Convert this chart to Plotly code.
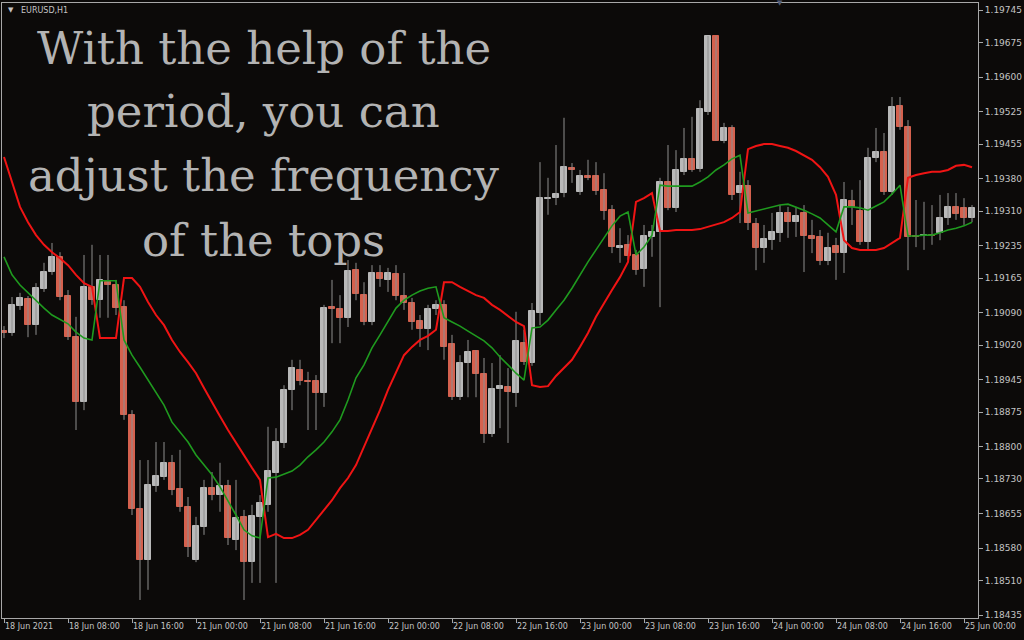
import plotly.graph_objects as go

# ---- data (EURUSD H1) ----
opens = [1.19050,1.19046,1.19105,1.19120,1.19063,1.19141,1.19178,1.19211,1.19126,1.19037,
         1.18897,1.19146,1.19117,1.19156,1.19150,1.19102,1.18869,1.18665,1.18555,1.18715,
         1.18734,1.18765,1.18708,1.18669,1.18555,1.18626,1.18710,1.18695,1.18715,1.18598,
         1.18648,1.18550,1.18648,1.18674,1.18743,1.18808,1.18923,1.18966,1.18942,1.18942,
         1.18916,1.19102,1.19098,1.19079,1.19182,1.19128,1.19070,1.19176,1.19161,1.19174,
         1.19126,1.19111,1.19072,1.19055,1.19098,1.19107,1.19022,1.18907,1.18981,1.19007,
         1.18957,1.18827,1.18925,1.18929,1.18916,1.19024,1.18981,1.19089,1.19336,1.19338,
         1.19349,1.19403,1.19351,1.19386,1.19386,1.19356,1.19312,1.19230,1.19237,1.19215,
         1.19185,1.19254,1.19265,1.19373,1.19317,1.19395,1.19423,1.19401,1.19525,1.19689,
         1.19462,1.19490,1.19349,1.19364,1.19282,1.19230,1.19247,1.19263,1.19306,1.19286,
         1.19306,1.19256,1.19254,1.19202,1.19234,1.19219,1.19332,1.19310,1.19243,1.19425,
         1.19438,1.19351,1.19538,1.19492,1.19256,1.19256,1.19258,1.19263,1.19295,1.19319,
         1.19317,1.19295]
highs = [1.19061,1.19124,1.19133,1.19126,1.19154,1.19198,1.19241,1.19221,1.19139,1.19081,
         1.19215,1.19237,1.19215,1.19215,1.19161,1.19117,1.18879,1.18771,1.18771,1.18810,
         1.18810,1.18782,1.18793,1.18691,1.18648,1.18728,1.18745,1.18765,1.18728,1.18728,
         1.18663,1.18674,1.18695,1.18843,1.18840,1.18933,1.18988,1.18988,1.18962,1.18955,
         1.19107,1.19161,1.19128,1.19204,1.19198,1.19156,1.19193,1.19193,1.19187,1.19193,
         1.19176,1.19122,1.19085,1.19107,1.19117,1.19117,1.19042,1.18998,1.19031,1.19009,
         1.18992,1.18981,1.18998,1.18970,1.19092,1.19053,1.19111,1.19416,1.19382,1.19453,
         1.19512,1.19414,1.19399,1.19421,1.19416,1.19392,1.19323,1.19273,1.19258,1.19226,
         1.19280,1.19280,1.19382,1.19453,1.19442,1.19490,1.19514,1.19550,1.19689,1.19689,
         1.19501,1.19496,1.19395,1.19377,1.19295,1.19280,1.19306,1.19323,1.19319,1.19319,
         1.19323,1.19291,1.19269,1.19263,1.19252,1.19373,1.19356,1.19377,1.19447,1.19490,
         1.19479,1.19557,1.19557,1.19507,1.19334,1.19330,1.19323,1.19345,1.19349,1.19349,
         1.19338,1.19323]
lows = [1.19035,1.19040,1.19096,1.19037,1.19042,1.19135,1.19172,1.19117,1.19031,1.18836,
        1.18879,1.19107,1.19079,1.19079,1.19085,1.18858,1.18652,1.18468,1.18490,1.18702,
        1.18728,1.18695,1.18659,1.18561,1.18550,1.18609,1.18684,1.18659,1.18587,1.18576,
        1.18468,1.18505,1.18505,1.18659,1.18505,1.18797,1.18879,1.18933,1.18836,1.18836,
        1.18886,1.19024,1.19024,1.19059,1.19117,1.19063,1.19063,1.19146,1.19135,1.19117,
        1.19096,1.19053,1.19016,1.19009,1.19085,1.18988,1.18901,1.18901,1.18907,1.18907,
        1.18808,1.18821,1.18840,1.18808,1.18886,1.18977,1.18975,1.19063,1.19302,1.19323,
        1.19340,1.19371,1.19345,1.19377,1.19345,1.19291,1.19219,1.19198,1.19204,1.19172,
        1.19146,1.19211,1.19102,1.19312,1.19308,1.19388,1.19395,1.19395,1.19518,1.19462,
        1.19457,1.19334,1.19284,1.19269,1.19182,1.19198,1.19226,1.19243,1.19252,1.19254,
        1.19178,1.19219,1.19193,1.19193,1.19161,1.19176,1.19280,1.19237,1.19226,1.19416,
        1.19345,1.19345,1.19486,1.19182,1.19232,1.19226,1.19237,1.19247,1.19280,1.19291,
        1.19280,1.19286]
closes = [1.19046,1.19107,1.19122,1.19063,1.19143,1.19178,1.19211,1.19124,1.19037,1.18897,
          1.19146,1.19117,1.19161,1.19150,1.19100,1.18869,1.18665,1.18555,1.18717,1.18736,
          1.18765,1.18706,1.18669,1.18583,1.18628,1.18710,1.18695,1.18715,1.18602,1.18646,
          1.18550,1.18650,1.18678,1.18747,1.18810,1.18923,1.18970,1.18942,1.18940,1.18916,
          1.19100,1.19098,1.19079,1.19180,1.19130,1.19070,1.19176,1.19163,1.19176,1.19126,
          1.19111,1.19070,1.19055,1.19098,1.19107,1.19016,1.18907,1.18981,1.19005,1.18957,
          1.18827,1.18925,1.18931,1.18918,1.19029,1.18983,1.19094,1.19338,1.19338,1.19347,
          1.19405,1.19399,1.19386,1.19382,1.19353,1.19310,1.19232,1.19234,1.19213,1.19182,
          1.19256,1.19265,1.19373,1.19317,1.19399,1.19423,1.19399,1.19531,1.19689,1.19462,
          1.19490,1.19345,1.19364,1.19284,1.19230,1.19250,1.19265,1.19306,1.19286,1.19299,
          1.19256,1.19250,1.19202,1.19230,1.19219,1.19334,1.19319,1.19243,1.19425,1.19438,
          1.19351,1.19535,1.19492,1.19254,1.19254,1.19258,1.19256,1.19295,1.19319,1.19304,
          1.19295,1.19317]
upper_line = [1.19427,1.19371,1.19319,1.19286,1.19258,1.19237,1.19221,1.19208,1.19193,1.19172,
              1.19154,1.19146,1.19035,1.19035,1.19035,1.19165,1.19165,1.19146,1.19113,1.19085,
              1.19063,1.19031,1.19005,1.18983,1.18959,1.18927,1.18895,1.18866,1.18836,1.18808,
              1.18782,1.18754,1.18728,1.18604,1.18611,1.18602,1.18602,1.18609,1.18620,1.18641,
              1.18663,1.18684,1.18710,1.18732,1.18760,1.18799,1.18836,1.18879,1.18923,1.18962,
              1.18998,1.19016,1.19031,1.19040,1.19053,1.19156,1.19156,1.19146,1.19137,1.19128,
              1.19122,1.19107,1.19096,1.19083,1.19070,1.19061,1.18933,1.18929,1.18931,1.18953,
              1.18970,1.18988,1.19016,1.19046,1.19081,1.19111,1.19139,1.19167,1.19200,1.19330,
              1.19338,1.19349,1.19267,1.19267,1.19269,1.19269,1.19269,1.19271,1.19276,1.19280,
              1.19286,1.19295,1.19308,1.19444,1.19451,1.19455,1.19455,1.19451,1.19447,1.19440,
              1.19431,1.19421,1.19405,1.19384,1.19345,1.19247,1.19230,1.19226,1.19226,1.19226,
              1.19230,1.19241,1.19252,1.19382,1.19388,1.19392,1.19395,1.19395,1.19399,1.19408,
              1.19410,1.19405]
lower_line = [1.19211,1.19172,1.19150,1.19133,1.19117,1.19100,1.19085,1.19076,1.19066,1.19048,
              1.19035,1.19031,1.19159,1.19159,1.19159,1.19031,1.18998,1.18972,1.18944,1.18918,
              1.18890,1.18853,1.18832,1.18810,1.18782,1.18760,1.18739,1.18713,1.18684,1.18652,
              1.18620,1.18607,1.18602,1.18732,1.18734,1.18741,1.18747,1.18760,1.18778,1.18793,
              1.18810,1.18832,1.18858,1.18901,1.18949,1.18977,1.19014,1.19042,1.19070,1.19100,
              1.19117,1.19128,1.19137,1.19143,1.19146,1.19079,1.19070,1.19061,1.19050,1.19040,
              1.19029,1.19014,1.18994,1.18977,1.18959,1.18944,1.19057,1.19059,1.19074,1.19096,
              1.19117,1.19143,1.19172,1.19200,1.19226,1.19252,1.19278,1.19299,1.19308,1.19215,
              1.19232,1.19258,1.19366,1.19364,1.19364,1.19364,1.19364,1.19373,1.19384,1.19399,
              1.19410,1.19423,1.19431,1.19306,1.19310,1.19315,1.19319,1.19323,1.19325,1.19319,
              1.19312,1.19304,1.19295,1.19280,1.19265,1.19319,1.19319,1.19317,1.19312,1.19321,
              1.19330,1.19347,1.19366,1.19256,1.19256,1.19258,1.19258,1.19263,1.19269,1.19273,
              1.19278,1.19286]

time_tick_bars = [0, 8, 16, 24, 32, 40, 48, 56, 64, 72, 80, 88, 96, 104, 112, 120]
time_tick_labels = ["18 Jun 2021", "18 Jun 08:00", "18 Jun 16:00", "21 Jun 00:00",
                    "21 Jun 08:00", "21 Jun 16:00", "22 Jun 00:00", "22 Jun 08:00",
                    "22 Jun 16:00", "23 Jun 00:00", "23 Jun 08:00", "23 Jun 16:00",
                    "24 Jun 00:00", "24 Jun 08:00", "24 Jun 16:00", "25 Jun 00:00"]
price_ticks = [1.19745, 1.19675, 1.19600, 1.19525, 1.19455, 1.19380, 1.19310, 1.19235,
               1.19165, 1.19090, 1.19020, 1.18945, 1.18875, 1.18800, 1.18730, 1.18655,
               1.18580, 1.18510, 1.18435]
symbol_label = "EURUSD,H1"
caption_lines = ["With the help of the", "period, you can",
                 "adjust the frequency", "of the tops"]

# ---- styling ----
BG = "#0c0a09"
AXIS = "#a8a8a8"
TICKTXT = "#c4c4c4"
BULL = "#b9b9b9"
BEAR = "#d5614e"
WICK = "#8e8e8e"

n = len(closes)
idx = list(range(n))

wx, wy = [], []
for i in idx:
    wx += [i, i, None]
    wy += [lows[i], highs[i], None]

bases = [min(o, c) for o, c in zip(opens, closes)]
heights = [abs(c - o) for o, c in zip(opens, closes)]
colors = [BULL if c >= o else BEAR for o, c in zip(opens, closes)]

fig = go.Figure()
fig.add_trace(go.Scatter(x=wx, y=wy, mode="lines", line=dict(color=WICK, width=1),
                         hoverinfo="skip", showlegend=False))
fig.add_trace(go.Bar(x=idx, y=heights, base=bases, width=0.8,
                     marker=dict(color=colors, line=dict(color=colors, width=1)),
                     hoverinfo="skip", showlegend=False))
fig.add_trace(go.Scatter(x=idx, y=upper_line, mode="lines",
                         line=dict(color="#f01414", width=2), hoverinfo="skip", showlegend=False))
fig.add_trace(go.Scatter(x=idx, y=lower_line, mode="lines",
                         line=dict(color="#1f9a1f", width=1.6), hoverinfo="skip", showlegend=False))

annotations = [
    dict(text="\u25BC", x=0.004, y=0.9886, xref="paper", yref="paper", xanchor="left",
         yanchor="middle", showarrow=False, font=dict(size=7, color=TICKTXT, family="DejaVu Sans")),
    dict(text=symbol_label, x=0.0175, y=0.9886, xref="paper", yref="paper", xanchor="left",
         yanchor="middle", showarrow=False, font=dict(size=8, color=TICKTXT, family="DejaVu Sans")),
    dict(text="\u25BC", x=0.797, y=1.0, xref="paper", yref="paper", xanchor="center",
         yanchor="middle", showarrow=False, font=dict(size=7, color="#55607a", family="DejaVu Sans")),
]
cap_y = [0.9268, 0.8228, 0.7187, 0.6146]
for t, yy in zip(caption_lines, cap_y):
    annotations.append(dict(text=t, x=0.268, y=yy, xref="paper", yref="paper",
                            xanchor="center", yanchor="middle", showarrow=False,
                            font=dict(size=45, color="#b3b3b3", family="DejaVu Serif")))

fig.update_layout(
    width=1024, height=640,
    margin=dict(l=2, r=46, t=3, b=22, autoexpand=False),
    paper_bgcolor=BG, plot_bgcolor=BG,
    barmode="overlay", bargap=0,
    showlegend=False,
    annotations=annotations,
    xaxis=dict(range=[-0.25, 121.75], tickvals=time_tick_bars, ticktext=time_tick_labels,
               ticks="outside", ticklen=4, tickcolor=AXIS, showline=True, linecolor=AXIS,
               linewidth=1, mirror=True, showgrid=False, zeroline=False, automargin=False,
               tickangle=0, ticklabelposition="outside right",
               tickfont=dict(size=8, color=TICKTXT, family="DejaVu Sans")),
    yaxis=dict(range=[1.18429, 1.197605], side="right", tickvals=price_ticks,
               ticktext=[f"{p:.5f}" for p in price_ticks], automargin=False,
               ticks="outside", ticklen=4, tickcolor=AXIS, showline=True, linecolor=AXIS,
               linewidth=1, mirror=True, showgrid=False, zeroline=False,
               tickfont=dict(size=9, color=TICKTXT, family="DejaVu Sans")),
)

fig.write_html("out.html",
               config={"displayModeBar": False},
               post_script="document.body.style.margin='0px';"
                           "document.body.style.background='" + BG + "';")
